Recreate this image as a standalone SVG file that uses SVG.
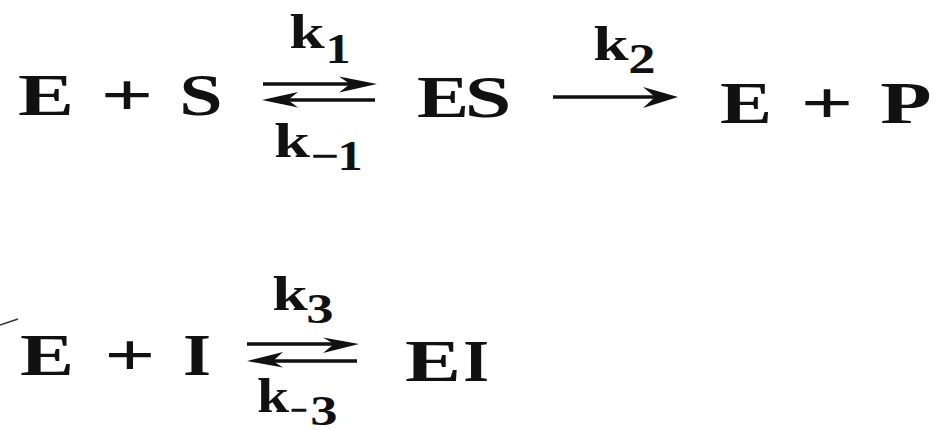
<svg xmlns="http://www.w3.org/2000/svg" width="932" height="430" viewBox="0 0 932 430">
  <style>
    .big { font-family: "Liberation Serif", "Times New Roman", serif; font-weight: bold; font-size: 60px; fill: #111; text-anchor: middle; }
    .k { font-family: "Liberation Serif", "Times New Roman", serif; font-weight: bold; font-size: 48px; fill: #111; text-anchor: middle; }
    .sub { font-family: "Liberation Serif", "Times New Roman", serif; font-weight: bold; font-size: 42px; fill: #111; text-anchor: middle; }
    .line { stroke: #111; stroke-width: 3.5; fill: none; }
    .head { fill: #111; stroke: none; }
  </style>
  <rect width="932" height="430" fill="#ffffff"/>

  <!-- Row 1 species -->
  <g id="E_plus_S">
    <text class="big" transform="translate(46,115) scale(1.4,1)">E</text>
    <text class="big" transform="translate(127,115) scale(1.55,1)">+</text>
    <text class="big" transform="translate(201,115) scale(1.3,1)">S</text>
  </g>
  <g id="ES">
    <text class="big" transform="translate(443,117) scale(1.3,1)">E</text>
    <text class="big" transform="translate(488,117) scale(1.4,1)">S</text>
  </g>
  <g id="E_plus_P">
    <text class="big" transform="translate(746,123) scale(1.3,1)">E</text>
    <text class="big" transform="translate(827,123) scale(1.55,1)">+</text>
    <text class="big" transform="translate(906,123) scale(1.4,1)">P</text>
  </g>

  <!-- Row 2 species -->
  <g id="E_plus_I">
    <text class="big" transform="translate(47,375) scale(1.35,1)">E</text>
    <text class="big" transform="translate(130,375) scale(1.5,1)">+</text>
    <text class="big" transform="translate(197,375) scale(1.2,1)">I</text>
  </g>
  <g id="EI">
    <text class="big" transform="translate(433,381) scale(1.4,1)">E</text>
    <text class="big" transform="translate(476,381) scale(1.1,1)">I</text>
  </g>

  <!-- Rate constant labels -->
  <g id="k1">
    <text class="k" transform="translate(307,48) scale(1.33,1)">k</text>
    <text class="sub" transform="translate(338,63) scale(1.2,1)">1</text>
  </g>
  <g id="k_minus1">
    <text class="k" transform="translate(292,157) scale(1.35,1)">k</text>
    <text class="sub" transform="translate(325,170) scale(1.2,1)">−</text>
    <text class="sub" transform="translate(350,170) scale(1.2,1)">1</text>
  </g>
  <g id="k2">
    <text class="k" transform="translate(611,60) scale(1.33,1)">k</text>
    <text class="sub" transform="translate(642,73) scale(1.3,1)">2</text>
  </g>
  <g id="k3">
    <text class="k" transform="translate(290,310) scale(1.33,1)">k</text>
    <text class="sub" transform="translate(320,323) scale(1.3,1)">3</text>
  </g>
  <g id="k_minus3">
    <text class="k" transform="translate(273,412) scale(1.2,1)">k</text>
    <text class="sub" transform="translate(299,424) scale(0.75,1)">−</text>
    <text class="sub" transform="translate(324,425) scale(1.3,1)">3</text>
  </g>

  <!-- Connectors -->
  <g id="connectors">
    <!-- E + S <=> ES -->
    <line class="line" x1="263" y1="84" x2="360" y2="84"/>
    <path class="head" d="M377,84 L339,76.5 L350,84 L339,92.5 Z"/>
    <line class="line" x1="280" y1="100" x2="375" y2="100"/>
    <path class="head" d="M262,100 L298,92 L288,100 L298,107.5 Z"/>
    <!-- ES -> E + P -->
    <line class="line" x1="553" y1="97" x2="660" y2="97"/>
    <path class="head" d="M678,97 L643,87 L655,97 L643,108 Z"/>
    <!-- E + I <=> EI -->
    <line class="line" x1="247" y1="344" x2="342" y2="344"/>
    <path class="head" d="M359,344 L323,337.5 L334,344 L323,353 Z"/>
    <line class="line" x1="265" y1="361" x2="357" y2="361"/>
    <path class="head" d="M247,361 L283,352 L273,361 L283,367.5 Z"/>
  </g>

  <!-- scan mark -->
  <path d="M0,325 L18,319" stroke="#333" stroke-width="1.5" fill="none"/>
</svg>
